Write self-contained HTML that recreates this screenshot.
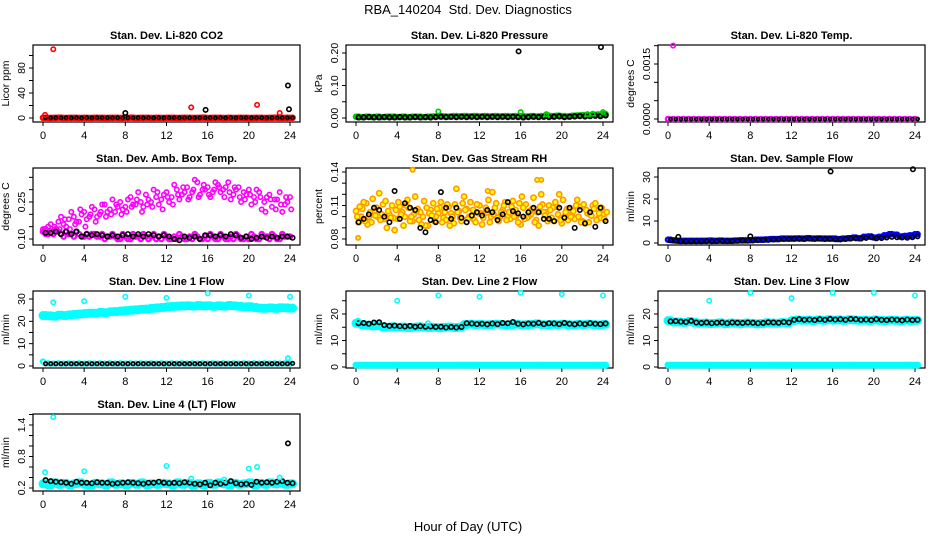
<!DOCTYPE html>
<html><head><meta charset="utf-8"><style>
body{margin:0;background:#fff}
svg{display:block;font-family:"Liberation Sans",Arial,sans-serif}
</style></head><body>
<svg id="c" width="936" height="540" viewBox="0 0 936 540">
<text x="468" y="14" text-anchor="middle" font-size="13" style="white-space:pre">RBA_140204  Std. Dev. Diagnostics</text>
<text x="468" y="531" text-anchor="middle" font-size="13">Hour of Day (UTC)</text>
</svg>
<script>
// ---- data (series sampled every 0.5 h from 0 h unless noted) ----
const hourTicks=[0,4,8,12,16,20,24];
const co2Red=[0.4,0.2,0.3,0.5,0.2,0.3,0.4,0.2,0.3,0.2,0.4,0.3,0.2,0.3,0.4,0.2,0.3,0.5,0.2,0.3,0.4,0.2,0.3,0.2,0.4,0.3,0.2,0.3,0.4,0.2,0.3,0.5,0.2,0.3,0.4,0.2,0.3,0.2,0.4,0.3,0.2,0.3,0.4,0.2,0.3,0.5,0.2,0.3,0.4];
const co2Black=[0.3,0.2,0.3,0.2,0.3,0.2,0.3,0.2,0.3,0.2,0.3,0.2,0.3,0.2,0.3,0.2,0.3,0.2,0.3,0.2,0.3,0.2,0.3,0.2,0.3,0.2,0.3,0.2,0.3,0.2,0.3,0.2,0.3,0.2,0.3,0.2,0.3,0.2,0.3,0.2,0.3,0.2,0.3,0.2,0.3,0.2,0.3,0.2,0.3];
const co2RedOutT=[0.2,1,14.4,20.8,23];
const co2RedOutV=[5,110,17,21,8];
const co2BlackOutT=[8,15.8,23.8,23.9];
const co2BlackOutV=[8,13,52,14];
const presGreen=[0.004,0.003,0.004,0.003,0.004,0.003,0.004,0.004,0.003,0.004,0.003,0.004,0.004,0.003,0.004,0.005,0.006,0.005,0.004,0.006,0.005,0.006,0.005,0.006,0.005,0.006,0.005,0.006,0.005,0.006,0.005,0.006,0.006,0.005,0.006,0.005,0.006,0.007,0.006,0.007,0.006,0.005,0.007,0.008,0.009,0.008,0.01,0.011,0.012];
const presBlack=[0.002,0.002,0.003,0.002,0.002,0.003,0.002,0.002,0.003,0.002,0.002,0.003,0.002,0.003,0.002,0.003,0.004,0.003,0.004,0.003,0.004,0.003,0.004,0.003,0.004,0.003,0.004,0.003,0.004,0.003,0.004,0.003,0.002,0.003,0.004,0.003,0.004,0.003,0.004,0.005,0.003,0.004,0.005,0.006,0.005,0.006,0.007,0.006,0.008];
const presGreenOutT=[8,16,24,18.5,22.5,23];
const presGreenOutV=[0.02,0.018,0.018,0.012,0.012,0.013];
const presBlackOutT=[15.8,23.8];
const presBlackOutV=[0.205,0.218];
const tempMag=[0,0,0,0,0,0,0,0,0,0,0,0,0,0,0,0,0,0,0,0,0,0,0,0,0,0,0,0,0,0,0,0,0,0,0,0,0,0,0,0,0,0,0,0,0,0,0,0,0];
const tempBlack=[0,0,0,0,0,0,0,0,0,0,0,0,0,0,0,0,0,0,0,0,0,0,0,0,0,0,0,0,0,0,0,0,0,0,0,0,0,0,0,0,0,0,0,0,0,0,0,0,0];
const tempOutT=[0.5];
const tempOutV=[0.002];
const ambHi=[0.14,0.15,0.13,0.17,0.16,0.18,0.19,0.17,0.21,0.19,0.22,0.20,0.24,0.22,0.21,0.25,0.23,0.27,0.24,0.25,0.28,0.25,0.27,0.26,0.29,0.27,0.30,0.28,0.31,0.29,0.33,0.30,0.31,0.29,0.32,0.30,0.33,0.28,0.31,0.29,0.30,0.27,0.29,0.25,0.28,0.26,0.29,0.24,0.27];
const ambHi2=[0.12,0.16,0.14,0.19,0.15,0.21,0.17,0.20,0.18,0.23,0.19,0.24,0.21,0.26,0.23,0.22,0.26,0.24,0.29,0.23,0.26,0.30,0.24,0.28,0.25,0.32,0.26,0.29,0.27,0.34,0.28,0.30,0.27,0.33,0.29,0.31,0.26,0.30,0.25,0.28,0.24,0.30,0.22,0.27,0.23,0.26,0.21,0.25];
const ambHi3=[0.13,0.13,0.15,0.14,0.18,0.14,0.16,0.22,0.15,0.2,0.17,0.21,0.19,0.2,0.24,0.2,0.21,0.23,0.26,0.21,0.24,0.23,0.29,0.22,0.27,0.24,0.28,0.31,0.26,0.3,0.27,0.32,0.28,0.30,0.31,0.27,0.29,0.31,0.27,0.26,0.28,0.25,0.27,0.21,0.26,0.22,0.24,0.27,0.22];
const ambLo=[0.13,0.12,0.12,0.13,0.11,0.12,0.11,0.12,0.11,0.11,0.12,0.11,0.10,0.11,0.11,0.10,0.11,0.10,0.11,0.10,0.11,0.11,0.10,0.10,0.11,0.10,0.10,0.11,0.10,0.10,0.11,0.10,0.10,0.11,0.10,0.11,0.10,0.10,0.11,0.10,0.10,0.11,0.10,0.11,0.10,0.11,0.10,0.11,0.11];
const ambLo2=[0.14,0.13,0.14,0.12,0.13,0.12,0.13,0.11,0.12,0.12,0.11,0.12,0.11,0.12,0.10,0.12,0.10,0.12,0.11,0.12,0.10,0.12,0.11,0.12,0.10,0.11,0.12,0.10,0.11,0.12,0.10,0.11,0.12,0.10,0.12,0.10,0.11,0.12,0.10,0.11,0.12,0.10,0.12,0.11,0.12,0.10,0.12,0.11];
const ambBlack=[0.125,0.125,0.13,0.12,0.13,0.12,0.13,0.11,0.12,0.115,0.12,0.115,0.11,0.115,0.11,0.115,0.12,0.11,0.12,0.11,0.12,0.115,0.11,0.115,0.11,0.10,0.095,0.11,0.105,0.11,0.10,0.115,0.115,0.11,0.115,0.11,0.12,0.115,0.105,0.11,0.10,0.105,0.11,0.105,0.11,0.105,0.11,0.11,0.105];
const rhA=[0.105,0.10,0.112,0.095,0.108,0.102,0.09,0.11,0.098,0.104,0.115,0.096,0.107,0.10,0.092,0.112,0.103,0.099,0.109,0.094,0.105,0.118,0.1,0.097,0.11,0.103,0.095,0.108,0.1,0.113,0.098,0.106,0.093,0.111,0.102,0.097,0.12,0.104,0.099,0.109,0.094,0.107,0.101,0.115,0.096,0.103,0.11,0.098,0.102];
const rhB=[0.095,0.113,0.1,0.105,0.121,0.098,0.102,0.088,0.109,0.1,0.096,0.118,0.104,0.092,0.106,0.1,0.113,0.097,0.103,0.125,0.096,0.107,0.101,0.111,0.093,0.104,0.122,0.099,0.106,0.101,0.114,0.095,0.108,0.1,0.117,0.092,0.104,0.11,0.096,0.12,0.1,0.106,0.098,0.109,0.094,0.102,0.112,0.099];
const rhC=[0.1,0.107,0.093,0.116,0.1,0.111,0.105,0.099,0.113,0.092,0.108,0.102,0.097,0.114,0.103,0.096,0.108,0.104,0.092,0.111,0.099,0.106,0.113,0.095,0.103,0.108,0.1,0.112,0.104,0.097,0.109,0.101,0.118,0.099,0.107,0.104,0.111,0.096,0.108,0.102,0.115,0.097,0.105,0.1,0.111,0.095,0.107,0.103,0.098];
const rhD=[0.109,0.096,0.104,0.101,0.097,0.114,0.099,0.106,0.102,0.11,0.1,0.105,0.093,0.108,0.101,0.107,0.095,0.111,0.1,0.104,0.112,0.098,0.106,0.103,0.099,0.115,0.102,0.096,0.11,0.104,0.1,0.112,0.098,0.105,0.095,0.109,0.101,0.106,0.113,0.097,0.104,0.1,0.11,0.095,0.106,0.101,0.097,0.108,0.104];
const rhBlack=[0.095,0.098,0.102,0.108,0.106,0.1,0.095,0.123,0.098,0.112,0.108,0.106,0.09,0.086,0.097,0.095,0.122,0.108,0.098,0.108,0.099,0.095,0.101,0.104,0.101,0.106,0.104,0.097,0.102,0.113,0.105,0.103,0.1,0.104,0.108,0.104,0.098,0.098,0.096,0.108,0.099,0.108,0.09,0.106,0.094,0.104,0.091,0.108,0.096];
const rhOutT=[5.5,0.2,18,12.8,17.6];
const rhOutV=[0.142,0.081,0.133,0.123,0.133];
const sampBlue=[1.5,1.2,1.0,1.0,1.0,1.0,1.0,1.0,1.1,1.0,1.1,1.0,1.0,1.1,1.2,1.2,1.3,1.5,1.5,1.6,1.8,1.8,2.0,2.0,2.0,2.1,2.0,2.2,2.0,2.1,2.0,2.0,2.0,1.8,2.0,2.2,2.5,2.2,2.8,3.0,2.5,2.8,3.5,4.0,3.8,3.0,3.2,3.5,4.0];
const sampBlack=[1.2,1.0,0.8,0.8,0.8,0.8,0.8,0.9,0.8,0.9,0.9,0.9,0.9,1.0,1.1,1.1,1.2,1.3,1.4,1.5,1.6,1.7,1.8,1.8,1.9,1.9,1.8,2.0,1.9,2.0,1.8,1.9,1.7,1.7,1.8,2.0,2.1,2.0,2.3,2.6,2.1,2.2,2.5,2.8,2.6,2.5,2.4,2.6,3.0];
const sampOutT=[15.8,23.8,8,1];
const sampOutV=[32.5,33.5,3,2.8];
const l1Cyan=[22.6,22.5,22.3,22.8,22.6,22.9,23.1,23.3,23.5,23.7,23.6,24.0,23.9,24.3,24.4,24.6,24.8,25.0,25.2,25.4,25.5,25.8,26.0,26.2,26.5,26.7,26.8,26.9,27.0,26.8,27.1,26.9,27.0,26.7,27.0,26.8,27.1,26.9,26.7,26.5,26.6,26.2,25.9,25.8,26.0,25.8,26.1,26.0,25.9];
const l1Low=[2,1.2,1.1,1.2,1.1,1.2,1.1,1.2,1.1,1.2,1.1,1.2,1.1,1.2,1.1,1.2,1.1,1.2,1.1,1.2,1.1,1.2,1.1,1.2,1.1,1.2,1.1,1.2,1.1,1.2,1.1,1.2,1.1,1.2,1.1,1.2,1.1,1.2,1.1,1.2,1.1,1.2,1.1,1.2,1.1,1.2,1.1,1.2,1.1];
const l1Black=[1,1,1,1,1,1,1,1,1,1,1,1,1,1,1,1,1,1,1,1,1,1,1,1,1,1,1,1,1,1,1,1,1,1,1,1,1,1,1,1,1,1,1,1,1,1,1,1,1.2];
const l1OutT=[1,4,8,12,16,20,24,23.8];
const l1OutV=[28.5,29,31,30.5,32.5,31.5,31,3.5];
const l2Cyan=[16.5,16,15.8,15.5,15.6,15.2,15,15.2,15,15.1,14.9,15,15.2,15,14.9,15,14.8,15,15.1,14.9,15,16,16.2,16,16.1,15.9,16,16.2,16.1,15.8,16,16.2,15.9,16,16.1,16.3,16,15.9,16.1,16,16.2,16,15.9,16.1,16,16.2,16,15.9,16.1];
const lowFlow=[0.7,0.7,0.7,0.7,0.7,0.7,0.7,0.7,0.7,0.7,0.7,0.7,0.7,0.7,0.7,0.7,0.7,0.7,0.7,0.7,0.7,0.7,0.7,0.7,0.7,0.7,0.7,0.7,0.7,0.7,0.7,0.7,0.7,0.7,0.7,0.7,0.7,0.7,0.7,0.7,0.7,0.7,0.7,0.7,0.7,0.7,0.7,0.7,0.7];
const l2Black=[16.5,16.6,16.3,16.8,16.9,15.8,15.5,15.6,15.4,15.3,15.5,15.2,15.4,15.2,15.3,15.1,15.2,14.9,15.1,14.9,15.1,16.5,16.4,16.2,16.3,16.1,16.4,16.2,16.6,16.5,17,16.3,16.1,16.4,16.3,16.6,16.2,16.5,16.4,16.2,16.6,16.3,16.1,16.4,16.2,16.5,16.3,16.2,16.4];
const l2OutT=[0.2,4,8,12,16,20,24,7];
const l2OutV=[17.5,25,27,26.5,28,27.5,27,16.5];
const l3Cyan=[17.5,17,17,16.8,17.2,16.8,16.5,16.6,16.4,16.5,16.7,16.3,16.6,16.5,16.4,16.6,16.5,16.3,16.4,16.7,16.6,16.5,16.8,16.6,17.5,17.8,17.6,17.7,17.5,17.8,17.6,17.9,17.7,17.8,17.6,17.9,17.8,17.6,17.7,17.5,17.8,17.6,17.5,17.7,17.6,17.4,17.7,17.5,17.6];
const l3Black=[17.2,17.3,17.1,17.0,17.4,16.8,16.6,16.8,16.5,16.7,16.8,16.5,16.8,16.7,16.6,16.8,16.7,16.5,16.6,16.9,16.8,16.7,17.0,16.8,17.8,18.0,17.8,17.9,17.7,18.0,17.8,18.1,17.9,18.0,17.8,18.1,18.0,17.8,17.9,17.7,18.0,17.8,17.7,17.9,17.8,17.6,17.9,17.7,17.8];
const l3OutT=[4,8,12,16,20,24];
const l3OutV=[25,28,26,28,28,27];
const l4Cyan=[0.28,0.26,0.3,0.27,0.29,0.26,0.28,0.3,0.27,0.25,0.29,0.28,0.26,0.3,0.27,0.28,0.26,0.29,0.27,0.3,0.26,0.28,0.27,0.29,0.28,0.26,0.3,0.27,0.29,0.25,0.28,0.26,0.29,0.27,0.3,0.28,0.26,0.29,0.27,0.28,0.3,0.26,0.29,0.27,0.3,0.28,0.29,0.27,0.28];
const l4Black=[0.35,0.33,0.32,0.31,0.3,0.28,0.32,0.3,0.3,0.29,0.31,0.3,0.3,0.28,0.29,0.3,0.31,0.3,0.29,0.28,0.3,0.3,0.32,0.3,0.29,0.3,0.29,0.31,0.3,0.28,0.27,0.3,0.25,0.3,0.28,0.3,0.33,0.29,0.27,0.28,0.26,0.32,0.3,0.31,0.3,0.32,0.33,0.3,0.29];
const l4CyanOutT=[0.2,1,4,12,20,20.8,23,14.4,17.6];
const l4CyanOutV=[0.5,1.55,0.52,0.62,0.57,0.6,0.4,0.38,0.36];
const l4BlackOutT=[23.8];
const l4BlackOutV=[1.05];

const NS='http://www.w3.org/2000/svg';
const svg=document.getElementById('c');
function mk(tag,attrs,parent){const e=document.createElementNS(NS,tag);for(const k in attrs)e.setAttribute(k,attrs[k]);parent.appendChild(e);return e;}
const colLeft=[33,346,658];
const rowTop=[45,168,291,414];
const BW=267,BH=77;

function panel(p){
  const L=colLeft[p.col],T=rowTop[p.row],B=T+BH;
  const g=mk('g',{},svg);
  
  
  const xs=t=>L+10+t*(247/24);
  const [v1,p1,v2,p2]=p.anchor;
  const ys=v=>p1+(v-v1)*(p2-p1)/(v2-v1);
  const tt=mk('text',{x:L+BW/2,y:T-6,'text-anchor':'middle','font-size':'11','font-weight':'bold'},g);
  tt.textContent=p.title;
  
  
  const box=mk('rect',{x:L,y:T,width:BW,height:BH,fill:'none',stroke:'#000','stroke-width':1.2},g);
  
  
  mk('line',{x1:xs(0),x2:xs(24),y1:B,y2:B,stroke:'#000'},g);
  hourTicks.forEach(h=>{
    mk('line',{x1:xs(h),x2:xs(h),y1:B,y2:B+4,stroke:'#000'},g);
    const t=mk('text',{x:xs(h),y:B+17,'text-anchor':'middle','font-size':'11'},g);
    t.textContent=h;
    
    
  });
  p.yticks.forEach(v=>{const y=ys(v);mk('line',{x1:L-4,x2:L,y1:y,y2:y,stroke:'#000'},g);});
  mk('line',{x1:L,x2:L,y1:ys(p.yticks[0]),y2:ys(p.yticks[p.yticks.length-1]),stroke:'#000'},g);
  p.ylabels.forEach((v,i)=>{
    const y=ys(v);
    const t=mk('text',{x:0,y:0,'text-anchor':'middle','font-size':'10.5',transform:`translate(${L-8},${y}) rotate(-90)`},g);
    t.textContent=p.ylabelText[i];
    
    
  });
  const yt=mk('text',{x:0,y:0,'text-anchor':'middle','font-size':'10.5',transform:`translate(${L-24},${T+BH/2}) rotate(-90)`},g);
  yt.textContent=p.ytitle;
  
  
  p.series.forEach(s=>{
    const sg=mk('g',{},g);
    
    
    s.v.forEach((v,i)=>{
      const t=s.t?s.t[i]:(s.t0||0)+i*0.5;
      const cy=ys(v);
      if(cy<T-3||cy>B+3)return;
      const c=mk('circle',{cx:xs(t),cy:cy,r:s.r||2.2,fill:s.fill||'none',stroke:s.c,'stroke-width':s.w||1.6},sg);
      
      
    });
  });
}
const K='#000';
panel({name:'panel-co2',row:0,col:0,title:'Stan. Dev. Li-820 CO2',ytitle:'Licor ppm',anchor:[0,118,80,68],yticks:[0,20,40,60,80,100],ylabels:[0,40,80],ylabelText:['0','40','80'],
 series:[{name:'co2-red',v:co2Red,c:'#f00',w:2.2},{name:'co2-red-2',v:co2Red,t0:0.25,c:'#f00',w:2.2},{name:'co2-black',v:co2Black,c:K,t0:0.25,r:1.6},{name:'co2-red-outliers',v:co2RedOutV,t:co2RedOutT,c:'#f00'},{name:'co2-black-outliers',v:co2BlackOutV,t:co2BlackOutT,c:K}]});
panel({name:'panel-pressure',row:0,col:1,title:'Stan. Dev. Li-820 Pressure',ytitle:'kPa',anchor:[0,118,0.2,53],yticks:[0,0.05,0.1,0.15,0.2],ylabels:[0,0.1,0.2],ylabelText:['0.00','0.10','0.20'],
 series:[{name:'pressure-green',v:presGreen,c:'#0c0',w:2.2},{name:'pressure-green-2',v:presGreen,t0:0.25,c:'#0c0',w:2.2},{name:'pressure-black',v:presBlack,c:K,t0:0.25,w:2},{name:'pressure-green-outliers',v:presGreenOutV,t:presGreenOutT,c:'#0c0'},{name:'pressure-black-outliers',v:presBlackOutV,t:presBlackOutT,c:K}]});
panel({name:'panel-temp',row:0,col:2,title:'Stan. Dev. Li-820 Temp.',ytitle:'degrees C',anchor:[0,119,0.0015,64],yticks:[0,0.0005,0.001,0.0015,0.002],ylabels:[0,0.0015],ylabelText:['0.0000','0.0015'],
 series:[{name:'temp-magenta',v:tempMag,c:'#f0f',w:2.2},{name:'temp-black',v:tempBlack,c:K,t0:0.25,r:1.6},{name:'temp-outliers',v:tempOutV,t:tempOutT,c:'#f0f'}]});
panel({name:'panel-amb-box',row:1,col:0,title:'Stan. Dev. Amb. Box Temp.',ytitle:'degrees C',anchor:[0.1,239,0.25,202],yticks:[0.1,0.15,0.2,0.25,0.3,0.35],ylabels:[0.1,0.25],ylabelText:['0.10','0.25'],
 series:[{name:'amb-magenta-low',v:ambLo,c:'#f0f',w:2.2},{name:'amb-magenta-low-2',v:ambLo2,t0:0.25,c:'#f0f',w:2.2},{name:'amb-magenta-high',v:ambHi,c:'#f0f'},{name:'amb-magenta-high-2',v:ambHi2,t0:0.25,c:'#f0f'},{name:'amb-magenta-high-3',v:ambHi3,t0:0.12,c:'#f0f'},{name:'amb-black',v:ambBlack,c:K,t0:0.25}]});
panel({name:'panel-rh',row:1,col:1,title:'Stan. Dev. Gas Stream RH',ytitle:'percent',anchor:[0.08,239,0.14,172],yticks:[0.08,0.09,0.1,0.11,0.12,0.13,0.14],ylabels:[0.08,0.11,0.14],ylabelText:['0.08','0.11','0.14'],
 series:[{name:'rh-a',v:rhA,c:'#f90',fill:'#ff0',r:2.6},{name:'rh-b',v:rhB,t0:0.25,c:'#f90',fill:'#ff0',r:2.6},{name:'rh-c',v:rhC,c:'#f90',fill:'#ff0',t0:0.12,r:2.6},{name:'rh-d',v:rhD,c:'#f90',fill:'#ff0',t0:0.37,r:2.6},{name:'rh-outliers',v:rhOutV,t:rhOutT,c:'#f90',fill:'#ff0'},{name:'rh-black',v:rhBlack,c:K,t0:0.25}]});
panel({name:'panel-sample-flow',row:1,col:2,title:'Stan. Dev. Sample Flow',ytitle:'ml/min',anchor:[0,243,30,177],yticks:[0,10,20,30],ylabels:[0,10,20,30],ylabelText:['0','10','20','30'],
 series:[{name:'sample-blue',v:sampBlue,c:'#00f',w:2.2},{name:'sample-blue-2',v:sampBlue,t0:0.25,c:'#00f',w:2.2},{name:'sample-black',v:sampBlack,c:K,t0:0.25},{name:'sample-outliers',v:sampOutV,t:sampOutT,c:K}]});
panel({name:'panel-line1',row:2,col:0,title:'Stan. Dev. Line 1 Flow',ytitle:'ml/min',anchor:[0,366,30,299],yticks:[0,5,10,15,20,25,30],ylabels:[0,10,20,30],ylabelText:['0','10','20','30'],
 series:[{name:'line1-cyan',v:l1Cyan,c:'#0ff',w:3,r:3},{name:'line1-cyan-2',v:l1Cyan,t0:0.25,c:'#0ff',w:3,r:3},{name:'line1-cyan-low',v:l1Low,c:'#0ff',w:2},{name:'line1-black',v:l1Black,c:K,t0:0.25,r:1.8},{name:'line1-outliers',v:l1OutV,t:l1OutT,c:'#0ff'}]});
panel({name:'panel-line2',row:2,col:1,title:'Stan. Dev. Line 2 Flow',ytitle:'ml/min',anchor:[0,367,20,314],yticks:[0,5,10,15,20,25],ylabels:[0,10,20],ylabelText:['0','10','20'],
 series:[{name:'line2-cyan',v:l2Cyan,c:'#0ff',w:3,r:3},{name:'line2-cyan-2',v:l2Cyan,t0:0.25,c:'#0ff',w:3,r:3},{name:'line2-cyan-low',v:lowFlow,c:'#0ff',w:2.6},{name:'line2-cyan-low-2',v:lowFlow,t0:0.25,c:'#0ff',w:2.6},{name:'line2-black',v:l2Black,c:K,t0:0.25},{name:'line2-outliers',v:l2OutV,t:l2OutT,c:'#0ff'}]});
panel({name:'panel-line3',row:2,col:2,title:'Stan. Dev. Line 3 Flow',ytitle:'ml/min',anchor:[0,367,20,314],yticks:[0,5,10,15,20,25],ylabels:[0,10,20],ylabelText:['0','10','20'],
 series:[{name:'line3-cyan',v:l3Cyan,c:'#0ff',w:3,r:3},{name:'line3-cyan-2',v:l3Cyan,t0:0.25,c:'#0ff',w:3,r:3},{name:'line3-cyan-low',v:lowFlow,c:'#0ff',w:2.6},{name:'line3-cyan-low-2',v:lowFlow,t0:0.25,c:'#0ff',w:2.6},{name:'line3-black',v:l3Black,c:K,t0:0.25},{name:'line3-outliers',v:l3OutV,t:l3OutT,c:'#0ff'}]});
panel({name:'panel-line4',row:3,col:0,title:'Stan. Dev. Line 4 (LT) Flow',ytitle:'ml/min',anchor:[0.2,488,1.4,425],yticks:[0.2,0.4,0.6,0.8,1.0,1.2,1.4,1.6],ylabels:[0.2,0.8,1.4],ylabelText:['0.2','0.8','1.4'],
 series:[{name:'line4-cyan',v:l4Cyan,c:'#0ff',w:3,r:3},{name:'line4-cyan-2',v:l4Cyan,t0:0.25,c:'#0ff',w:3,r:3},{name:'line4-black',v:l4Black,c:K,t0:0.25},{name:'line4-cyan-outliers',v:l4CyanOutV,t:l4CyanOutT,c:'#0ff'},{name:'line4-black-outliers',v:l4BlackOutV,t:l4BlackOutT,c:K}]});
</script>
</body></html>
